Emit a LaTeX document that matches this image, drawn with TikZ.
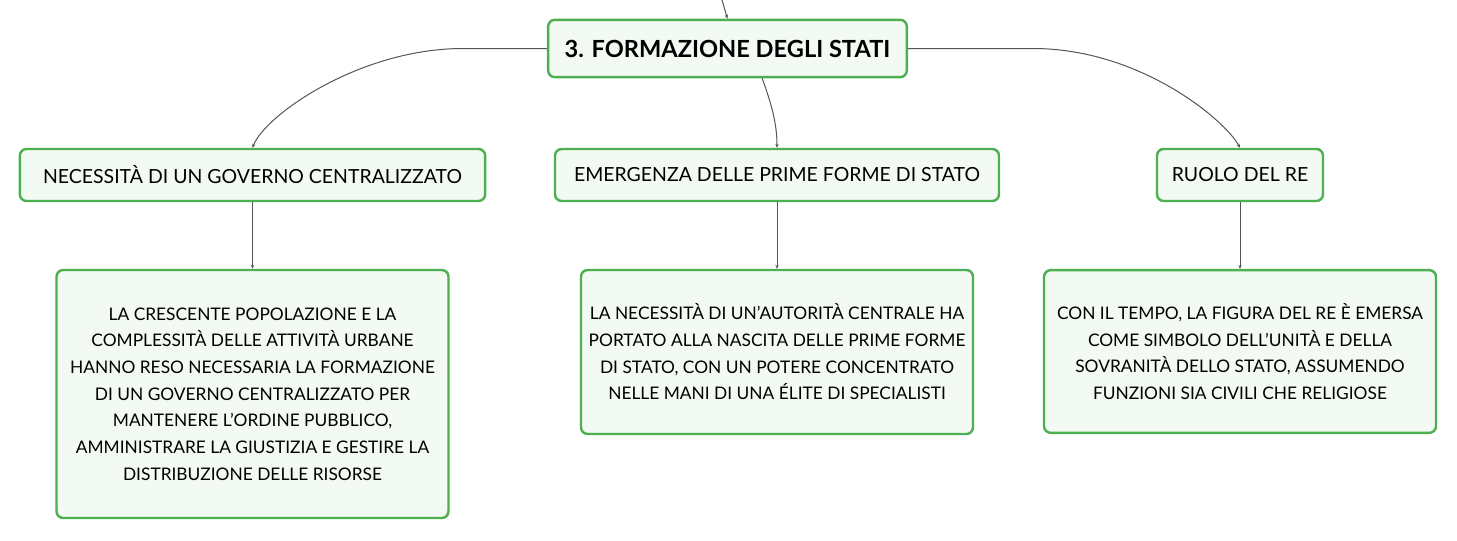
\documentclass[tikz,border=0pt]{standalone}
\usepackage{fontspec}
\setmainfont{Lato}
\usepackage{xcolor}
\usetikzlibrary{arrows.meta,positioning}

\definecolor{boxgreen}{RGB}{76,175,80}
\definecolor{boxfill}{RGB}{243,249,243}
\definecolor{linegray}{RGB}{85,85,85}

\begin{document}
\begin{tikzpicture}[x=0.75pt, y=-0.75pt,
    topic/.style={rectangle, rounded corners=5pt, draw=boxgreen, line width=1.8pt, fill=boxfill, align=center, inner sep=0pt},
    maintopic/.style={topic, font=\fontsize{17.7}{21}\selectfont\bfseries, minimum width=269pt, minimum height=43pt},
    subtopic/.style={topic, font=\fontsize{14.6}{17}\selectfont, minimum height=39pt},
    desc/.style={topic, font=\fontsize{13}{20}\selectfont, minimum width=294pt},
    link/.style={-{Stealth[length=3pt, width=2.5pt]}, draw=linegray, line width=0.75pt}
]
    \useasboundingbox (0,0) rectangle (1457,540);

    \node[maintopic] (title) at (727.5,48.5) {3. FORMAZIONE DEGLI STATI};
    \coordinate (parent) at (722,0);

    \node[subtopic, minimum width=349pt] (need) at (252.5,175) {NECESSITÀ DI UN GOVERNO CENTRALIZZATO};
    \node[subtopic, minimum width=333pt] (rise) at (777,175) {EMERGENZA DELLE PRIME FORME DI STATO};
    \node[subtopic, minimum width=124.5pt] (king) at (1240,175) {RUOLO DEL RE};

    \node[desc, minimum height=186pt] (needtext) at (252.5,394) {LA CRESCENTE POPOLAZIONE E LA\\COMPLESSITÀ DELLE ATTIVITÀ URBANE\\HANNO RESO NECESSARIA LA FORMAZIONE\\DI UN GOVERNO CENTRALIZZATO PER\\MANTENERE L'ORDINE PUBBLICO,\\AMMINISTRARE LA GIUSTIZIA E GESTIRE LA\\DISTRIBUZIONE DELLE RISORSE};
    \node[desc, minimum height=123pt] (risetext) at (777,352) {LA NECESSITÀ DI UN'AUTORITÀ CENTRALE HA\\PORTATO ALLA NASCITA DELLE PRIME FORME\\DI STATO, CON UN POTERE CONCENTRATO\\NELLE MANI DI UNA ÉLITE DI SPECIALISTI};
    \node[desc, minimum height=122pt] (kingtext) at (1240,351.5) {CON IL TEMPO, LA FIGURA DEL RE È EMERSA\\COME SIMBOLO DELL'UNITÀ E DELLA\\SOVRANITÀ DELLO STATO, ASSUMENDO\\FUNZIONI SIA CIVILI CHE RELIGIOSE};

    \draw[link] (parent) .. controls (724,8) .. (title.north);
    \draw[link] (title.west) -- (463,48.5) .. controls (360,48.5) and (265,115) .. (need.north);
    \draw[link] ([xshift=26pt]title.south) .. controls (772,105) and (777,125) .. (rise.north);
    \draw[link] (title.east) -- (1033,48.5) .. controls (1140,48.5) and (1225,120) .. (king.north);

    \draw[link] (need) -- (needtext);
    \draw[link] (rise) -- (risetext);
    \draw[link] (king) -- (kingtext);
\end{tikzpicture}
\end{document}
